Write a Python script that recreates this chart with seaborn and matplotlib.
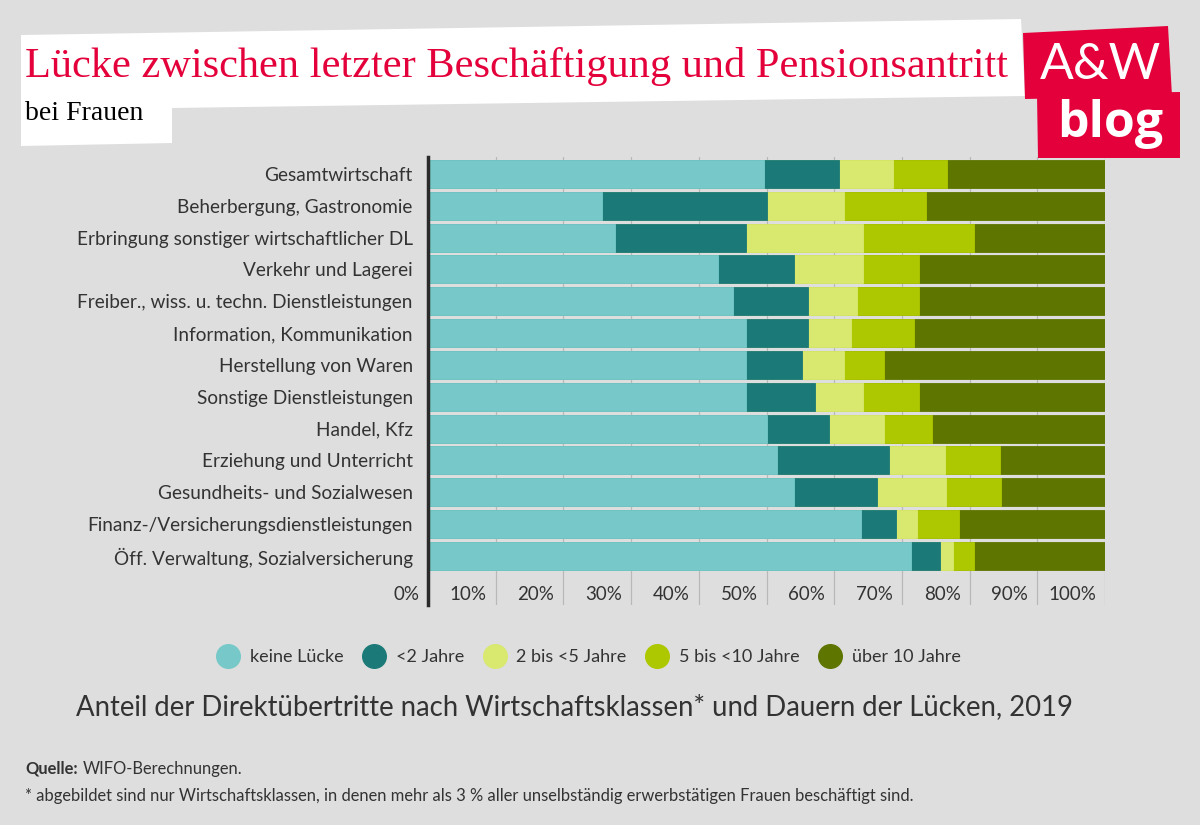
"""
Lücke zwischen letzter Beschäftigung und Pensionsantritt (Frauen, 2019)
gestapeltes Balkendiagramm nach Wirtschaftsklassen
"""
import pandas as pd
import matplotlib.pyplot as plt
import seaborn as sns
from matplotlib.patches import Polygon
from matplotlib.lines import Line2D
from matplotlib.transforms import ScaledTranslation

# Daten (Anteile in %)
kategorien = [
    'Gesamtwirtschaft',
    'Beherbergung, Gastronomie',
    'Erbringung sonstiger wirtschaftlicher DL',
    'Verkehr und Lagerei',
    'Freiber., wiss. u. techn. Dienstleistungen',
    'Information, Kommunikation',
    'Herstellung von Waren',
    'Sonstige Dienstleistungen',
    'Handel, Kfz',
    'Erziehung und Unterricht',
    'Gesundheits- und Sozialwesen',
    'Finanz-/Versicherungsdienstleistungen',
    'Öff. Verwaltung, Sozialversicherung',
]
keine_luecke = [49.7, 25.7, 27.6, 42.9, 45.0, 47.0, 47.0, 47.0, 50.1, 51.6, 54.1, 64.0, 71.4]
unter_2 = [11.0, 24.4, 19.4, 11.2, 11.2, 9.2, 8.2, 10.2, 9.1, 16.5, 12.2, 5.2, 4.2]
zwei_bis_5 = [8.0, 11.3, 17.3, 10.2, 7.2, 6.3, 6.2, 7.1, 8.2, 8.2, 10.2, 3.1, 2.0]
fuenf_bis_10 = [8.0, 12.2, 16.4, 8.2, 9.1, 9.3, 6.0, 8.2, 7.1, 8.2, 8.2, 6.2, 3.1]
ueber_10 = [23.3, 26.4, 19.3, 27.5, 27.5, 28.2, 32.6, 27.5, 25.5, 15.5, 15.3, 21.5, 19.3]

serien = ['keine Lücke', '<2 Jahre', '2 bis <5 Jahre', '5 bis <10 Jahre', 'über 10 Jahre']
farben = ['#76c9c8', '#1b7a78', '#d9e86e', '#adc700', '#5e7500']
x_ticks = [0, 10, 20, 30, 40, 50, 60, 70, 80, 90, 100]
x_labels = ['0%', '10%', '20%', '30%', '40%', '50%', '60%', '70%', '80%', '90%', '100%']

BG = '#dedede'
ROT = '#e4003a'
TEXT = '#333333'

sns.set_theme(style='white')
plt.rcParams['font.family'] = ['Lato', 'DejaVu Sans']

W, H = 1200, 825
fig = plt.figure(figsize=(W / 100, H / 100), dpi=100, facecolor=BG)


def px(x, y):
    """Pixelkoordinaten -> Figure-Koordinaten"""
    return (x / W, 1 - y / H)


# Achse
ax_l, ax_r, ax_t, ax_b = 428, 1105, 157, 605
ax = fig.add_axes([ax_l / W, 1 - ax_b / H, (ax_r - ax_l) / W, (ax_b - ax_t) / H])
ax.set_facecolor(BG)

df = pd.DataFrame({
    'Kategorie': kategorien,
    serien[0]: keine_luecke,
    serien[1]: unter_2,
    serien[2]: zwei_bis_5,
    serien[3]: fuenf_bis_10,
    serien[4]: ueber_10,
})
kum = df[serien].cumsum(axis=1)

# von hinten nach vorne zeichnen, damit die Stapel entstehen
for s, c in reversed(list(zip(serien, farben))):
    sns.barplot(x=kum[s], y=df['Kategorie'], orient='h', color=c, width=0.88,
                saturation=1, edgecolor=c, linewidth=0.6, ax=ax, zorder=3)

ax.set_xlim(0, 100)
ax.set_ylim(13.54, -0.53)
ax.set_xlabel('')
ax.set_ylabel('')

ax.set_xticks(x_ticks)
ax.set_xticklabels(x_labels, fontsize=13.5, color=TEXT, ha='right', va='center')
ax.tick_params(axis='x', length=0, pad=0)
offset = ScaledTranslation(-0.09, 0.11, fig.dpi_scale_trans)
for lbl in ax.get_xticklabels():
    lbl.set_transform(lbl.get_transform() + offset)

ax.tick_params(axis='y', length=0, pad=11, labelsize=13.7, labelcolor=TEXT)
ax.grid(axis='x', color='#b8b8b8', linewidth=0.9, zorder=0)
ax.grid(axis='y', visible=False)
for side in ['top', 'right', 'bottom']:
    ax.spines[side].set_visible(False)
ax.spines['left'].set_color('#2a2a2a')
ax.spines['left'].set_linewidth(2.5)
ax.spines['left'].set_zorder(5)

# Titelbox
box = Polygon([px(21, 35), px(1021, 19), px(1025, 96), px(172, 108), px(172, 143), px(21, 146)],
              closed=True, transform=fig.transFigure, facecolor='white', edgecolor='none', zorder=1)
fig.patches.append(box)
fig.text(*px(25, 66), 'Lücke zwischen letzter Beschäftigung und Pensionsantritt',
         family=['Liberation Serif', 'DejaVu Serif'], fontsize=30.5, color=ROT, va='center', ha='left')
fig.text(*px(25, 113), 'bei Frauen', family=['Liberation Serif', 'DejaVu Serif'],
         fontsize=20, color='black', va='center', ha='left')

# Logo
logo1 = Polygon([px(1023, 33), px(1168, 26), px(1172, 96), px(1025, 99)], closed=True,
                transform=fig.transFigure, facecolor=ROT, edgecolor='none', zorder=1)
logo2 = Polygon([px(1037, 94), px(1180, 92), px(1180, 158), px(1038, 158)], closed=True,
                transform=fig.transFigure, facecolor=ROT, edgecolor='none', zorder=1)
fig.patches.extend([logo1, logo2])
fig.text(*px(1100, 65), 'A&W', family=['Lato', 'DejaVu Sans'], fontweight='normal', fontsize=36,
         color='white', ha='center', va='center')
fig.text(*px(1110, 124), 'blog', family=['Open Sans', 'DejaVu Sans'], fontsize=36,
         fontweight='bold', color='white', ha='center', va='center')

# Legende
handles = [Line2D([], [], marker='o', linestyle='none', markersize=17,
                  markerfacecolor=c, markeredgecolor=c) for c in farben]
fig.legend(handles, serien, loc='center', bbox_to_anchor=px(589, 657), ncol=5,
           frameon=False, fontsize=13, labelcolor=TEXT, handletextpad=0.6,
           columnspacing=1.1, handlelength=1.2)

# Untertitel / Quelle
fig.text(*px(574, 707), 'Anteil der Direktübertritte nach Wirtschaftsklassen* und Dauern der Lücken, 2019',
         fontsize=19.8, color=TEXT, ha='center', va='center')
fig.text(*px(25, 769), 'Quelle:', fontsize=11.9, fontweight='bold', color=TEXT, ha='left', va='center')
fig.text(*px(83, 769), 'WIFO-Berechnungen.', fontsize=11.9, color=TEXT, ha='left', va='center')
fig.text(*px(25, 796), '* abgebildet sind nur Wirtschaftsklassen, in denen mehr als 3 % aller '
         'unselbständig erwerbstätigen Frauen beschäftigt sind.',
         fontsize=11.9, color=TEXT, ha='left', va='center')

fig.savefig('out.png', dpi=100, facecolor=BG)
